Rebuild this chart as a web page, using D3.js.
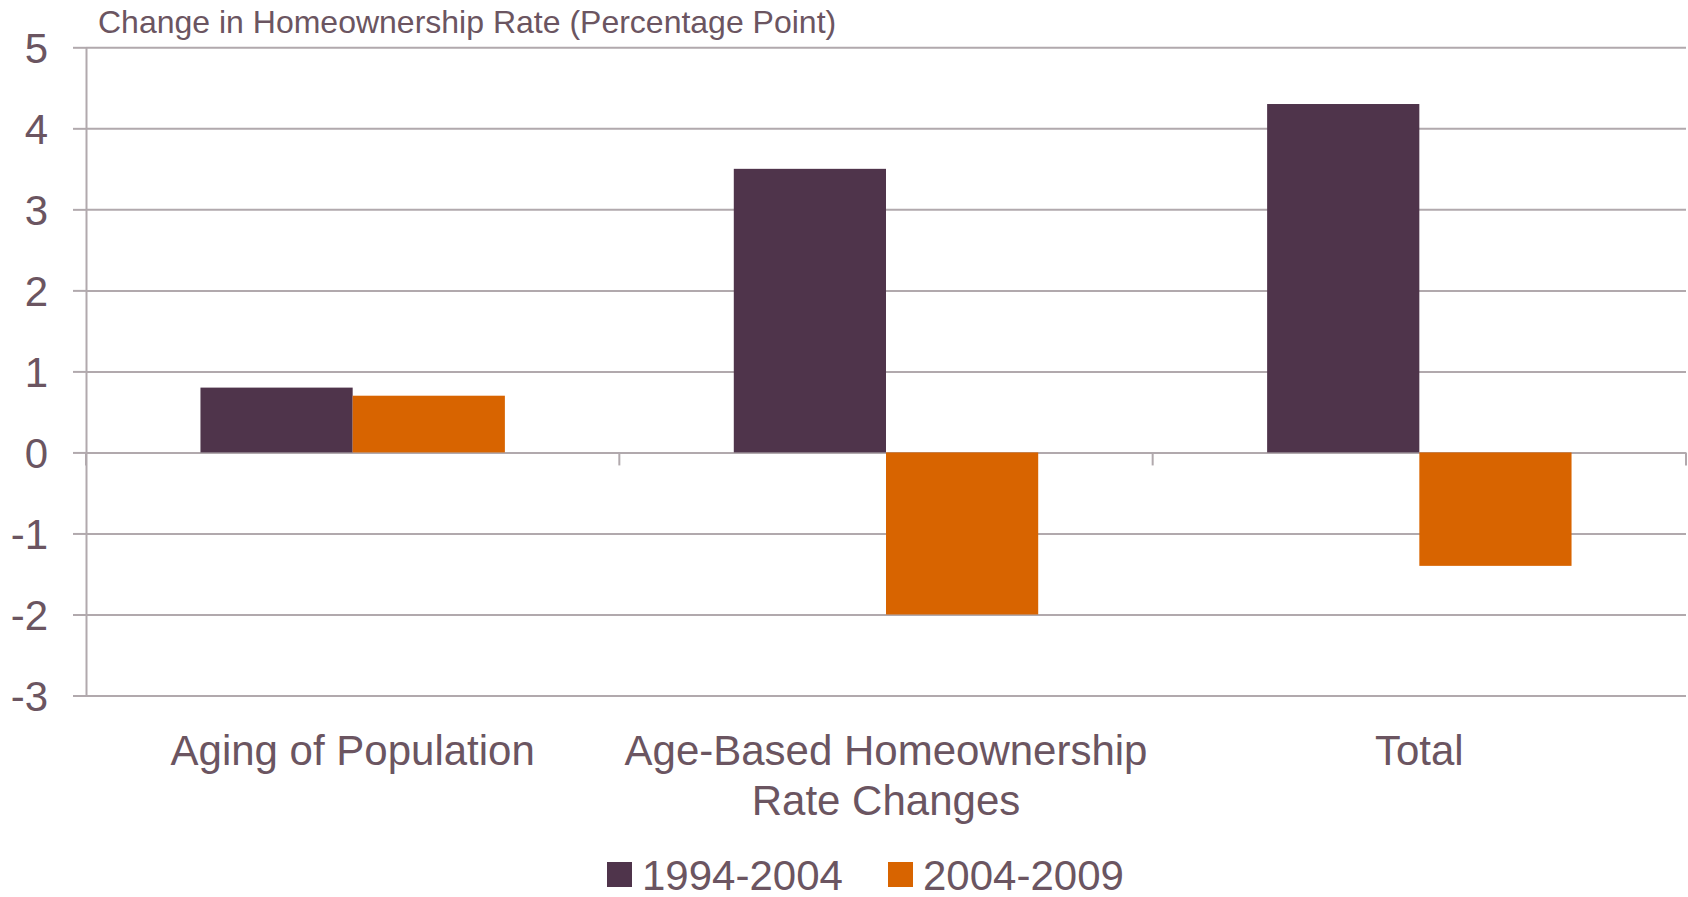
<!DOCTYPE html>
<html>
<head>
<meta charset="utf-8">
<script src="https://cdn.jsdelivr.net/npm/d3@7"></script>
<style>
  html, body { margin: 0; padding: 0; background: #fff; }
  svg { display: block; font-family: Arial, "Liberation Sans", sans-serif; }
</style>
</head>
<body>
<svg id="chart" width="1688" height="897"></svg>
<script>
// data
var categories = ['Aging of Population', 'Age-Based Homeownership\nRate Changes', 'Total'];
var seriesNames = ['1994-2004', '2004-2009'];
var values1994 = [0.8, 3.5, 4.3];
var values2004 = [0.7, -2.0, -1.4];
var yTicks = [-3, -2, -1, 0, 1, 2, 3, 4, 5];
var colors = ['#4f344b', '#d86400'];

var textColor = '#6b5561';
var gridColor = '#b1a9ad';

// plot area (window.top is reserved, so no bare "top")
var plotLeft = 86, plotRight = 1686, plotTop = 47.3, plotBottom = 695.5;

var svg = d3.select('#chart');

var x = d3.scaleBand()
  .domain(categories)
  .range([plotLeft, plotRight])
  .padding(0);

var xInner = d3.scaleBand()
  .domain(seriesNames)
  .range([0, x.bandwidth()])
  .paddingInner(0)
  .paddingOuter(0.752);

var y = d3.scaleLinear()
  .domain([-3, 5])
  .range([plotBottom, plotTop]);

// gridlines
var grid = svg.append('g')
  .attr('transform', 'translate(' + plotLeft + ',0)')
  .call(d3.axisRight(y).tickValues(yTicks).tickSize(plotRight - plotLeft).tickFormat(''));
grid.select('.domain').remove();
grid.selectAll('line').attr('stroke', gridColor).attr('stroke-width', 2);

// y axis (plain hyphen for negatives, like the original)
var yAxis = svg.append('g')
  .attr('transform', 'translate(' + plotLeft + ',0)')
  .call(d3.axisLeft(y)
    .tickValues(yTicks)
    .tickFormat(function(d) { return String(d); })
    .tickSize(13)
    .tickPadding(25)
    .tickSizeOuter(0));
yAxis.select('.domain').attr('stroke', gridColor).attr('stroke-width', 2);
yAxis.selectAll('line').attr('stroke', gridColor).attr('stroke-width', 2);
yAxis.selectAll('text')
  .attr('fill', textColor)
  .attr('font-size', 42)
  .attr('font-family', 'Arial, "Liberation Sans", sans-serif')
  .attr('dy', '0.36em');

// bars
var rows = categories.map(function(c, i) {
  return { cat: c, vals: [values1994[i], values2004[i]] };
});

var groups = svg.append('g').selectAll('g')
  .data(rows)
  .enter().append('g')
  .attr('transform', function(d) { return 'translate(' + x(d.cat) + ',0)'; });

groups.selectAll('rect')
  .data(function(d) {
    return d.vals.map(function(v, j) { return { name: seriesNames[j], v: v, j: j }; });
  })
  .enter().append('rect')
  .attr('x', function(d) { return xInner(d.name); })
  .attr('width', xInner.bandwidth())
  .attr('y', function(d) { return y(Math.max(0, d.v)); })
  .attr('height', function(d) { return Math.abs(y(d.v) - y(0)); })
  .attr('fill', function(d) { return colors[d.j]; });

// category ticks below the zero line
var tickXs = categories.map(function(c) { return x(c); }).concat([plotRight]);
svg.append('g').selectAll('line')
  .data(tickXs)
  .enter().append('line')
  .attr('x1', function(d) { return d; })
  .attr('x2', function(d) { return d; })
  .attr('y1', y(0))
  .attr('y2', y(0) + 13)
  .attr('stroke', gridColor)
  .attr('stroke-width', 2);

// category labels
var labels = svg.append('g').selectAll('text')
  .data(categories)
  .enter().append('text')
  .attr('x', function(d) { return x(d) + x.bandwidth() / 2; })
  .attr('y', 765)
  .attr('text-anchor', 'middle')
  .attr('font-size', 42)
  .attr('fill', textColor);
labels.each(function(d) {
  var t = d3.select(this);
  d.split('\n').forEach(function(line, i) {
    t.append('tspan')
      .attr('x', x(d) + x.bandwidth() / 2)
      .attr('dy', i === 0 ? 0 : 50)
      .text(line);
  });
});

// title
svg.append('text')
  .attr('x', 98)
  .attr('y', 33)
  .attr('font-size', 32)
  .attr('fill', textColor)
  .text('Change in Homeownership Rate (Percentage Point)');

// legend
var legendX = [607, 888];
var legend = svg.append('g').selectAll('g')
  .data(seriesNames)
  .enter().append('g')
  .attr('transform', function(d, i) { return 'translate(' + legendX[i] + ',0)'; });
legend.append('rect')
  .attr('x', 0)
  .attr('y', 862)
  .attr('width', 25)
  .attr('height', 25)
  .attr('fill', function(d, i) { return colors[i]; });
legend.append('text')
  .attr('x', 35)
  .attr('y', 890)
  .attr('font-size', 42)
  .attr('fill', textColor)
  .text(function(d) { return d; });
</script>
</body>
</html>
